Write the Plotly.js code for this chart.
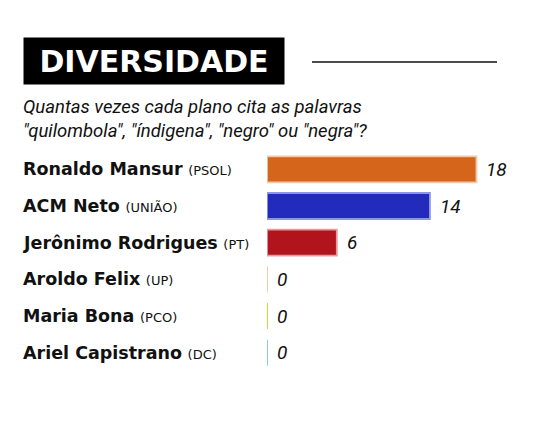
<!DOCTYPE html>
<html><head><meta charset="utf-8">
<script src="https://cdn.plot.ly/plotly-3.0.1.min.js"></script>
<style>body{margin:0;background:#fff}#c{width:536px;height:431px}</style>
</head><body><div id="c"></div>
<script>
const names = ["Ronaldo Mansur", "ACM Neto", "Jerônimo Rodrigues", "Aroldo Felix", "Maria Bona", "Ariel Capistrano"];
const parties = ["(PSOL)", "(UNIÃO)", "(PT)", "(UP)", "(PCO)", "(DC)"];
const values = [18, 14, 6, 0, 0, 0];
const fillColors = ["#D4651A", "#222BBC", "#B1141D", "#F3D3B3", "#F8C22A", "#8ECBF3"];
const lineColors = ["#F0C9A8", "#8F95E6", "#E59A9E", "#F0C8A0", "#F8BE1A", "#7EC2F2"];
const titleText = "DIVERSIDADE";
const subtitleText = "Quantas vezes cada plano cita as palavras<br>\"quilombola\", \"índigena\", \"negro\" ou \"negra\"?";

const W = 536, H = 431, L = 267, R = 13, T = 151, B = 60;
const pw = W - L - R, ph = H - T - B;
const px2x = p => (p - L) / pw;
const py2y = p => 1 - (p - T) / ph;

const cats = names.map((n, i) => n + " " + parties[i]);

const bar = {
  type: "bar", orientation: "h",
  x: values, y: cats,
  width: 0.71,
  marker: { color: fillColors, line: { color: lineColors, width: 1.8 } },
  hoverinfo: "none"
};

const annotations = [];
cats.forEach((c, i) => {
  annotations.push({
    xref: "paper", yref: "y", x: px2x(21), y: c, xanchor: "left", yanchor: "middle",
    showarrow: false, align: "left",
    text: "<b>" + names[i] + "</b> <span style='font-size:13px;font-weight:normal'>" + parties[i] + "</span>",
    font: { family: "DejaVu Sans", size: 17.5, color: "#111" }
  });
  annotations.push({
    xref: "x", yref: "y", x: values[i], y: c, xanchor: "left", yanchor: "middle",
    xshift: 8, showarrow: false,
    text: "<i>" + values[i] + "</i>",
    font: { family: "Roboto", size: 19, color: "#111" }
  });
});
annotations.push({
  xref: "paper", yref: "paper", x: px2x(23), y: py2y(37), xanchor: "left", yanchor: "top",
  showarrow: false, text: "<b>" + titleText + "</b>", bgcolor: "#000",
  width: 260, height: 46, borderpad: 0, align: "center", valign: "middle",
  font: { family: "DejaVu Sans", size: 30, color: "#fff" }
});
annotations.push({
  xref: "paper", yref: "paper", x: px2x(21), y: py2y(94), xanchor: "left", yanchor: "top",
  showarrow: false, align: "left", text: "<i>" + subtitleText + "</i>",
  font: { family: "Roboto", size: 18.5, color: "#111" }
});

const layout = {
  width: W, height: H,
  margin: { l: L, r: R, t: T, b: B, pad: 0 },
  paper_bgcolor: "#fff", plot_bgcolor: "#fff",
  showlegend: false,
  xaxis: { range: [0, 22], visible: false, fixedrange: true },
  yaxis: { autorange: "reversed", showticklabels: false, showgrid: false, zeroline: false, showline: false, ticks: "" },
  annotations: annotations,
  shapes: [{ type: "line", xref: "paper", yref: "paper", x0: px2x(312), x1: px2x(497), y0: py2y(62), y1: py2y(62), line: { color: "#111", width: 1.5 } }]
};

Plotly.newPlot("c", [bar], layout, { staticPlot: true });
</script></body></html>
